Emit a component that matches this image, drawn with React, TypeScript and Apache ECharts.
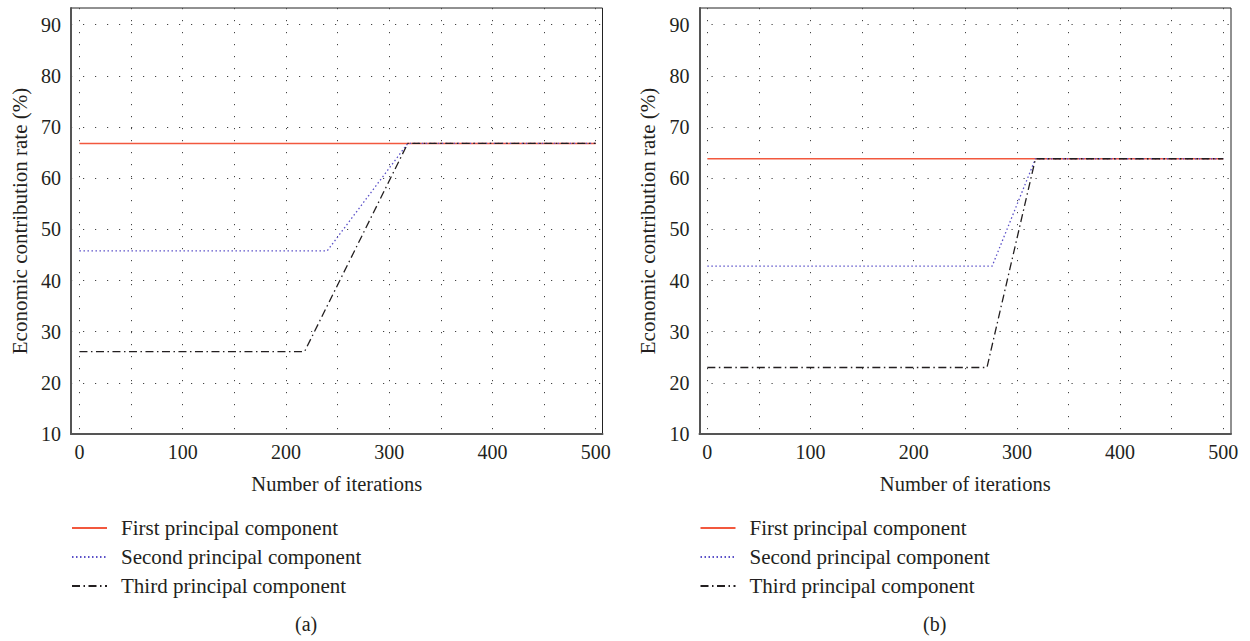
import React, { useEffect, useRef } from "react";
import * as echarts from "echarts";

// ---- Data ----
const seriesNames = ["First principal component", "Second principal component", "Third principal component"];

// Panel (a)
const xA1 = [0, 500];
const yA1 = [66.8, 66.8];
const xA2 = [0, 240, 318, 500];
const yA2 = [45.8, 45.8, 66.8, 66.8];
const xA3 = [0, 218, 318, 500];
const yA3 = [26.1, 26.1, 66.8, 66.8];

// Panel (b)
const xB1 = [0, 500];
const yB1 = [63.8, 63.8];
const xB2 = [0, 276, 318, 500];
const yB2 = [42.8, 42.8, 63.8, 63.8];
const xB3 = [0, 271, 318, 500];
const yB3 = [23.0, 23.0, 63.8, 63.8];

const xGridTicks = [0, 50, 100, 150, 200, 250, 300, 350, 400, 450, 500];
const xLabelTicks = [0, 100, 200, 300, 400, 500];
const yTicks = [10, 20, 30, 40, 50, 60, 70, 80, 90];

const xAxisName = "Number of iterations";
const yAxisName = "Economic contribution rate (%)";
const captions = ["(a)", "(b)"];

const FONT = "Liberation Serif";
const TEXT = "#231f20";
const colors = ["#f2583e", "#5a50c8", "#231f20"];
const lineTypes: any[] = ["solid", [1.5, 2.5], [8, 3.5, 1.5, 3.5]];

const zip = (xs: number[], ys: number[]) => xs.map((x, i) => [x, ys[i]]);

export default function App() {
  const ref = useRef<HTMLDivElement>(null);
  useEffect(() => {
    document.body.style.margin = "0";
    const chart = echarts.init(ref.current!, null, { renderer: "svg" });

    const grids = [
      { left: 71, top: 8, width: 531.5, height: 426 },
      { left: 699.5, top: 8, width: 531.5, height: 426 },
    ];
    const xRanges = [
      [-8.2, 506.6],
      [-7.6, 507.5],
    ];

    const makeX = (i: number) => ({
      type: "value",
      gridIndex: i,
      min: xRanges[i][0],
      max: xRanges[i][1],
      name: xAxisName,
      nameLocation: "middle",
      nameGap: 39,
      nameTextStyle: { fontFamily: FONT, fontSize: 20.5, color: TEXT },
      axisLine: { show: true, onZero: false, lineStyle: { color: "#555", width: 2 } },
      axisTick: { show: false, customValues: xGridTicks },
      axisLabel: {
        customValues: xLabelTicks,
        fontFamily: FONT,
        fontSize: 20,
        color: TEXT,
        margin: 8,
      },
      splitLine: { show: true, lineStyle: { color: "#444", width: 1, type: [1.2, 10.8] } },
    });
    const makeY = (i: number) => ({
      type: "value",
      gridIndex: i,
      min: 10,
      max: 93.26,
      name: yAxisName,
      nameLocation: "middle",
      nameGap: 41,
      nameTextStyle: { fontFamily: FONT, fontSize: 21, color: TEXT },
      axisLine: { show: true, onZero: false, lineStyle: { color: "#555", width: 2 } },
      axisTick: { show: false, customValues: yTicks },
      axisLabel: {
        customValues: yTicks,
        fontFamily: FONT,
        fontSize: 20,
        color: TEXT,
        margin: 10,
      },
      splitLine: { show: true, lineStyle: { color: "#444", width: 1, type: [1.2, 10.8] } },
    });

    const panelData = [
      [zip(xA1, yA1), zip(xA2, yA2), zip(xA3, yA3)],
      [zip(xB1, yB1), zip(xB2, yB2), zip(xB3, yB3)],
    ];

    const series: any[] = [];
    panelData.forEach((panel, p) => {
      panel.forEach((d, k) => {
        series.push({
          type: "line",
          name: seriesNames[k],
          xAxisIndex: p,
          yAxisIndex: p,
          data: d,
          symbol: "none",
          lineStyle: { color: colors[k], width: k === 0 ? 1.5 : 1.3, type: lineTypes[k] },
          itemStyle: { color: colors[k] },
          z: 2 + k,
        });
      });
    });

    const legendLefts = [71, 699.5];
    const legends = legendLefts.map((l) => ({
      left: l,
      top: 517.5,
      padding: 0,
      orient: "vertical",
      itemWidth: 35,
      itemHeight: 14,
      itemGap: 8,
      selectedMode: false,
      itemStyle: { opacity: 0 },
      data: seriesNames,
      textStyle: { fontFamily: FONT, fontSize: 21, color: TEXT, lineHeight: 20, padding: [0, 0, 0, 9] },
    }));

    chart.setOption({
      animation: false,
      backgroundColor: "#fff",
      grid: grids.map((g) => ({ ...g, show: true, borderColor: "#222", borderWidth: 1, containLabel: false })),
      xAxis: [makeX(0), makeX(1)],
      yAxis: [makeY(0), makeY(1)],
      legend: legends,
      series,
      graphic: [
        { type: "text", left: 295, top: 614, style: { text: captions[0], font: `20px '${FONT}'`, fill: TEXT } },
        { type: "text", left: 923, top: 614, style: { text: captions[1], font: `20px '${FONT}'`, fill: TEXT } },
      ],
    });
    return () => chart.dispose();
  }, []);
  return <div ref={ref} style={{ width: 1250, height: 641 }} />;
}
